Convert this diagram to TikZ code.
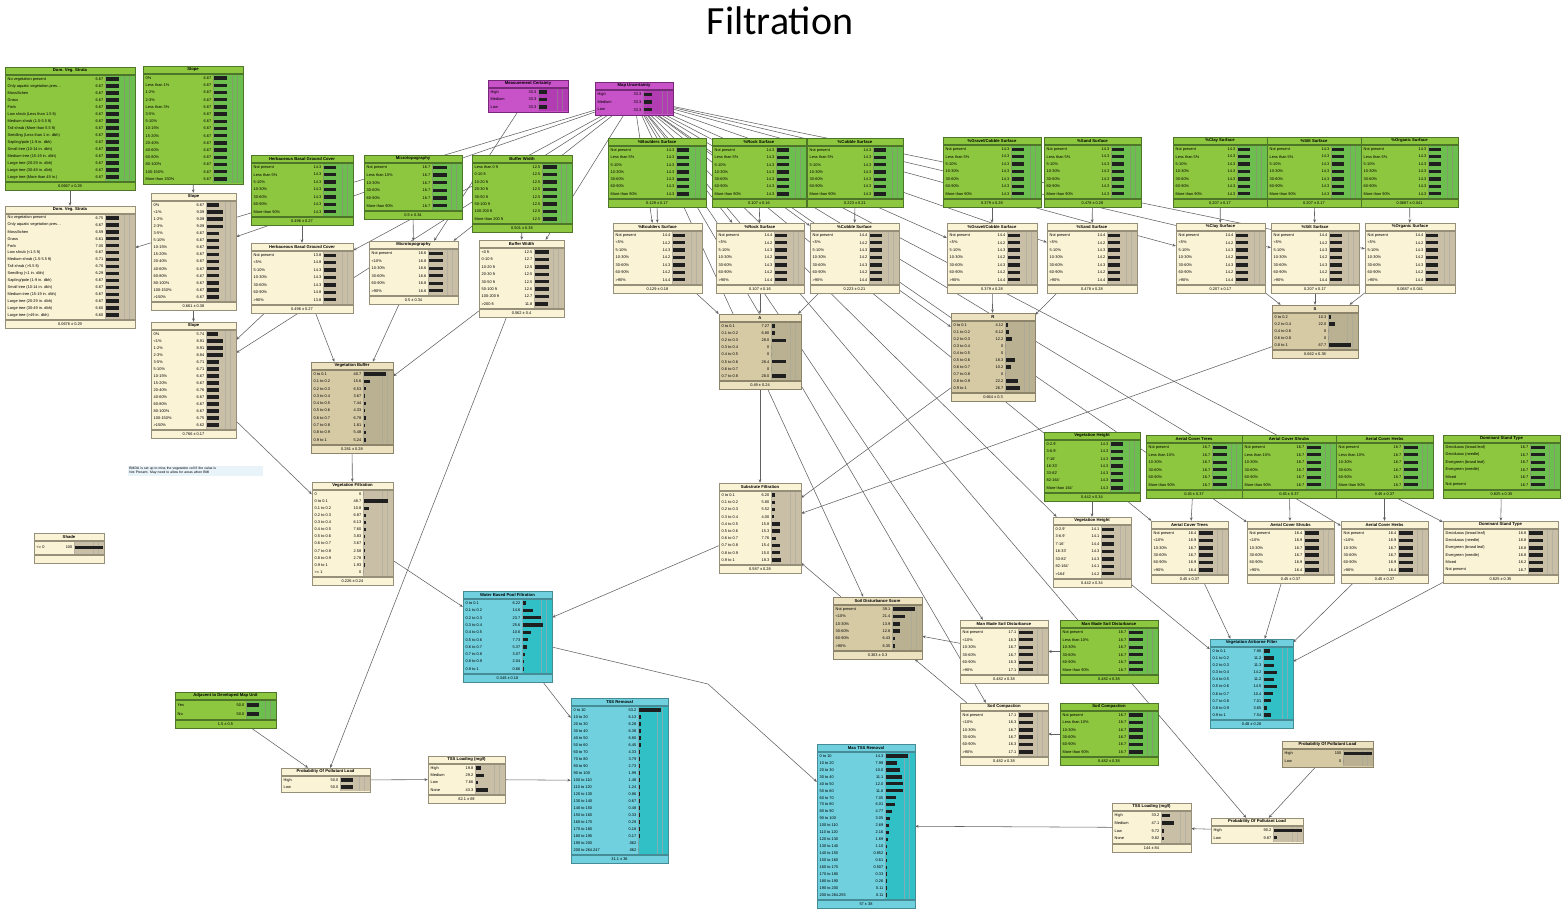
\documentclass[tikz,border=0pt]{standalone}
\usepackage{fontspec}
\setmainfont{Liberation Sans}
\newfontfamily\titlefont{Carlito}
\usetikzlibrary{fit,arrows.meta}
\pgfdeclarelayer{bgw}\pgfdeclarelayer{edges}
\pgfsetlayers{bgw,edges,main}
% colour schemes: G green, C cream, T tan, B cyan, M magenta
\definecolor{Gbg}{RGB}{141,198,63}\definecolor{Gbar}{RGB}{108,190,78}\definecolor{Gtt}{RGB}{141,198,63}\definecolor{Gbd}{RGB}{78,118,40}
\definecolor{Cbg}{RGB}{251,243,214}\definecolor{Cbar}{RGB}{200,191,166}\definecolor{Ctt}{RGB}{251,243,214}\definecolor{Cbd}{RGB}{150,144,122}
\definecolor{Tbg}{RGB}{214,202,165}\definecolor{Tbar}{RGB}{186,176,146}\definecolor{Ttt}{RGB}{236,226,192}\definecolor{Tbd}{RGB}{140,133,108}
\definecolor{Bbg}{RGB}{112,208,222}\definecolor{Bbar}{RGB}{48,192,198}\definecolor{Btt}{RGB}{112,208,222}\definecolor{Bbd}{RGB}{70,140,150}
\definecolor{Mbg}{RGB}{200,82,200}\definecolor{Mbar}{RGB}{178,60,178}\definecolor{Mtt}{RGB}{200,82,200}\definecolor{Mbd}{RGB}{120,40,120}
\definecolor{notebg}{RGB}{232,243,250}
\protected\def\sls{/}
\tikzset{
 bntitle/.style={font=\bfseries\fontsize{4.2}{5}\selectfont, inner sep=0pt},
 bnrow/.style={font=\fontsize{3.9}{4.5}\selectfont, inner sep=0pt},
 edge/.style={draw=black!62, line width=0.55pt, -{Stealth[length=3.4pt,width=2.8pt]}},
}
% #1 name #2 x1 #3 y1 #4 x2 #5 y2 #6 scheme #7 title #8 footer #9 rows label/value/bar
\newcommand\bnode[9]{%
  \def\bnfoot{#8}%
  \ifx\bnfoot\empty\def\fh{1}\else\def\fh{9}\fi
  \edef\bnlist{#9}%
  \foreach \bnitem [count=\k] in \bnlist {\xdef\nr{\k}}%
  \pgfmathsetmacro\rh{(#5-#3-9-\fh)/\nr}%
  \node[fit={(#2,#3)(#4,#5)}, inner sep=0pt, fill=#6bg] (#1) {};
  \fill[#6tt] (#2,#3) rectangle (#4,#3+7);
  \node[bntitle] at ({(#2+#4)/2},#3+3.7) {#7};
  \fill[#6bar] (#4-30,#3+8) rectangle (#4-0.5,#5-\fh);
  \draw[#6bd!70, line width=0.25pt] (#4-30,#3+8) -- (#4-30,#5-\fh) (#4-11,#3+8) -- (#4-11,#5-\fh) (#4-6,#3+8) -- (#4-6,#5-\fh);
  \draw[#6bd, line width=0.3pt] (#2,#3+7) -- (#4,#3+7) (#2,#3+8.2) -- (#4,#3+8.2);
  \foreach \lab/\val/\bl [count=\k] in \bnlist {
    \pgfmathsetmacro\yy{#3+8.5+(\k-0.5)*\rh}
    \node[bnrow, anchor=west] at (#2+2.5,\yy) {\lab};
    \node[bnrow, anchor=east] at (#4-31.5,\yy) {\val};
    \fill[black!88] (#4-29.5,\yy-1.7) rectangle ++(\bl,3.4);
  }
  \ifx\bnfoot\empty\else
    \fill[#6tt] (#2,#5-9) rectangle (#4,#5);
    \draw[#6bd, line width=0.3pt] (#2,#5-9) -- (#4,#5-9) (#2,#5-7.8) -- (#4,#5-7.8);
    \node[bnrow] at ({(#2+#4)/2},#5-3.9) {#8};
  \fi
  \draw[#6bd, line width=0.6pt] (#2,#3) rectangle (#4,#5);
}
\def\rowsSurfG{Not present/14.3/12, Less than 5\%/14.3/12, 5-10\%/14.3/12, 10-30\%/14.3/12, 30-60\%/14.3/12, 60-90\%/14.3/12, More than 90\%/14.3/12}
\def\rowsSurfC{Not present/14.4/12, <5\%/14.2/12, 5-10\%/14.3/12, 10-30\%/14.2/12, 30-60\%/14.3/12, 60-90\%/14.2/12, >90\%/14.4/12}
\def\rowsCovG{Not present/16.7/14, Less than 10\%/16.7/14, 10-30\%/16.7/14, 30-60\%/16.7/14, 60-90\%/16.7/14, More than 90\%/16.7/14}
\def\rowsCovC{Not present/16.4/14, <10\%/16.9/14, 10-30\%/16.7/14, 30-60\%/16.7/14, 60-90\%/16.9/14, >90\%/16.4/14}
\def\rowsMmsC{Not present/17.1/14, <10\%/16.3/14, 10-30\%/16.7/14, 30-60\%/16.7/14, 60-90\%/16.3/14, >90\%/17.1/14}
\def\rowsHML{High/33.3/8, Medium/33.3/8, Low/33.3/8}
\def\rowsStandG{Deciduous (broad leaf)/16.7/14, Deciduous (needle)/16.7/14, Evergreen (broad leaf)/16.7/14, Evergreen (needle)/16.7/14, Mixed/16.7/14, Not present/16.7/14}
\def\rowsStandC{Deciduous (broad leaf)/16.8/14, Deciduous (needle)/16.8/14, Evergreen (broad leaf)/16.8/14, Evergreen (needle)/16.8/14, Mixed/16.2/14, Not present/16.7/14}
\begin{document}
\begin{tikzpicture}[x=1pt,y=-1pt]
\useasboundingbox (0,0) rectangle (1567,913);
\begin{pgfonlayer}{bgw}\fill[white] (0,0) rectangle (1567,913);\end{pgfonlayer}
\node[font=\titlefont\fontsize{40}{44}\selectfont] (ttl) at (780,21) {Filtration};

% ---- upper left
\bnode{dvG}{5}{67}{135}{190}{G}{Dom. Veg. Strata}{0.0667 ± 0.29}{No vegetation present/6.67/13, Only aquatic vegetation pres…/6.67/13, Moss\sls lichen/6.67/13, Grass/6.67/13, Forb/6.67/13, Low shrub (Less than 1.5 ft)/6.67/13, Medium shrub (1.5-5.5 ft)/6.67/13, Tall shrub (More than 5.5 ft)/6.67/13, Seedling (Less than 1 in. dbh)/6.67/13, Sapling\sls pole (1-9 in. dbh)/6.67/13, Small tree (10-14 in. dbh)/6.67/13, Medium tree (15-19 in. dbh)/6.67/13, Large tree (20-29 in. dbh)/6.67/13, Large tree (30-49 in. dbh)/6.67/13, Large tree (More than 49 in.)/6.67/13}
\bnode{dvC}{5}{206}{135}{328}{C}{Dom. Veg. Strata}{0.0676 ± 0.29}{No vegetation present/6.75/13, Only aquatic vegetation pres…/6.67/13, Moss\sls lichen/6.59/13, Grass/6.61/13, Forb/7.00/13, Low shrub (<1.5 ft)/6.67/13, Medium shrub (1.5-5.5 ft)/6.71/13, Tall shrub (>5.5 ft)/6.70/13, Seedling (<1 in. dbh)/6.29/13, Sapling\sls pole (1-9 in. dbh)/6.67/13, Small tree (10-14 in. dbh)/6.67/13, Medium tree (15-19 in. dbh)/6.67/13, Large tree (20-29 in. dbh)/6.67/13, Large tree (30-49 in. dbh)/6.60/13, Large tree (>49 in. dbh)/6.60/13}
\bnode{slG}{143}{66}{243}{184}{G}{Slope}{}{0\%/6.67/13, Less than 1\%/6.67/13, 1-2\%/6.67/13, 2-3\%/6.67/13, Less than 3\%/6.67/13, 3-5\%/6.67/13, 5-10\%/6.67/13, 10-15\%/6.67/13, 15-20\%/6.67/13, 20-40\%/6.67/13, 40-60\%/6.67/13, 60-80\%/6.67/13, 80-100\%/6.67/13, 100-150\%/6.67/13, More than 150\%/6.67/13}
\bnode{slC1}{151}{193}{236}{310}{C}{Slope}{0.661 ± 0.38}{0\%/6.67/12, <1\%/9.09/16, 1-2\%/9.09/16, 2-3\%/9.09/16, 3-5\%/6.67/12, 5-10\%/6.67/12, 10-15\%/6.67/12, 15-20\%/6.67/12, 20-40\%/6.67/12, 40-60\%/6.67/12, 60-80\%/6.67/12, 80-100\%/6.67/12, 100-150\%/6.67/12, >150\%/6.67/12}
\bnode{slC2}{151}{322}{236}{438}{C}{Slope}{0.766 ± 0.17}{0\%/5.74/11, <1\%/8.91/16, 1-2\%/8.91/16, 2-3\%/8.84/16, 3-5\%/6.71/12, 5-10\%/6.71/12, 10-15\%/6.67/12, 15-20\%/6.67/12, 20-40\%/6.76/12, 40-60\%/6.67/12, 60-80\%/6.67/12, 80-100\%/6.67/12, 100-150\%/6.75/12, >150\%/6.62/12}
\bnode{hbG}{251}{155}{353}{225}{G}{Herbaceous Basal Ground Cover}{0.496 ± 0.27}{Not present/14.3/12, Less than 5\%/14.3/12, 5-10\%/14.3/12, 10-30\%/14.3/12, 30-60\%/14.3/12, 60-90\%/14.3/12, More than 90\%/14.3/12}
\bnode{hbC}{251}{243}{353}{313}{C}{Herbaceous Basal Ground Cover}{0.496 ± 0.27}{Not present/13.8/12, <5\%/14.8/12, 5-10\%/14.3/12, 10-30\%/14.3/12, 30-60\%/14.3/12, 60-90\%/14.8/12, >90\%/13.8/12}
\bnode{miG}{364}{155}{462}{219}{G}{Microtopography}{0.5 ± 0.34}{\rowsCovG}
\bnode{miC}{369}{241}{458}{304}{C}{Microtopography}{0.5 ± 0.34}{Not present/16.6/14, <10\%/16.8/14, 10-30\%/16.6/14, 30-60\%/16.6/14, 60-90\%/16.8/14, >90\%/16.6/14}
\bnode{bwG}{472}{155}{572}{232}{G}{Buffer Width}{0.501 ± 0.38}{Less than 0 ft/12.5/14, 0-10 ft/12.5/14, 10-20 ft/12.5/14, 20-30 ft/12.5/14, 30-50 ft/12.5/14, 50-100 ft/12.5/14, 100-200 ft/12.5/14, More than 200 ft/12.5/14}
\bnode{bwC}{479}{240}{564}{317}{C}{Buffer Width}{0.562 ± 0.4}{<0 ft/12.5/14, 0-10 ft/12.7/14, 10-20 ft/12.5/14, 20-30 ft/12.5/14, 30-50 ft/12.5/14, 50-100 ft/12.6/14, 100-200 ft/12.7/14, >200 ft/11.8/13}
\bnode{meas}{488}{80}{568}{112}{M}{Measurement Certainty}{}{\rowsHML}
\bnode{mu}{595}{82}{673}{115}{M}{Map Uncertainty}{}{\rowsHML}

% ---- surface row
\bnode{bdG}{608}{138}{706}{207}{G}{\%Boulders Surface}{0.129 ± 0.17}{\rowsSurfG}
\bnode{rkG}{712}{138}{806}{207}{G}{\%Rock Surface}{0.107 ± 0.16}{\rowsSurfG}
\bnode{cbG}{807}{138}{903}{207}{G}{\%Cobble Surface}{0.223 ± 0.21}{\rowsSurfG}
\bnode{gcG}{943}{137}{1041}{207}{G}{\%Gravel/Cobble Surface}{0.379 ± 0.28}{\rowsSurfG}
\bnode{sdG}{1044}{137}{1141}{207}{G}{\%Sand Surface}{0.478 ± 0.28}{\rowsSurfG}
\bnode{clG}{1173}{137}{1267}{207}{G}{\%Clay Surface}{0.207 ± 0.17}{\rowsSurfG}
\bnode{siG}{1267}{137}{1361}{207}{G}{\%Silt Surface}{0.207 ± 0.17}{\rowsSurfG}
\bnode{ogG}{1361}{137}{1458}{207}{G}{\%Organic Surface}{0.0687 ± 0.041}{\rowsSurfG}
\bnode{bdC}{613}{223}{702}{293}{C}{\%Boulders Surface}{0.129 ± 0.18}{\rowsSurfC}
\bnode{rkC}{716}{223}{804}{293}{C}{\%Rock Surface}{0.107 ± 0.16}{\rowsSurfC}
\bnode{cbC}{810}{223}{899}{293}{C}{\%Cobble Surface}{0.223 ± 0.21}{\rowsSurfC}
\bnode{gcC}{947}{223}{1037}{293}{C}{\%Gravel/Cobble Surface}{0.379 ± 0.28}{\rowsSurfC}
\bnode{sdC}{1047}{223}{1137}{293}{C}{\%Sand Surface}{0.478 ± 0.28}{\rowsSurfC}
\bnode{clC}{1176}{223}{1265}{293}{C}{\%Clay Surface}{0.207 ± 0.17}{\rowsSurfC}
\bnode{siC}{1271}{223}{1359}{293}{C}{\%Silt Surface}{0.207 ± 0.17}{\rowsSurfC}
\bnode{ogC}{1365}{223}{1455}{293}{C}{\%Organic Surface}{0.0687 ± 0.041}{\rowsSurfC}

% ---- substrate
\bnode{nA}{719}{314}{801}{389}{T}{A}{0.49 ± 0.24}{0 to 0.1/7.27/3, 0.1 to 0.2/6.80/3, 0.2 to 0.3/28.0/14, 0.3 to 0.4/0/0, 0.4 to 0.5/0/0, 0.5 to 0.6/28.4/14, 0.6 to 0.7/0/0, 0.7 to 0.8/28.0/14}
\bnode{nR}{951}{313}{1035}{401}{T}{R}{0.664 ± 0.3}{0 to 0.1/4.12/2, 0.1 to 0.2/6.12/3, 0.2 to 0.3/12.2/6, 0.3 to 0.4/0/0, 0.4 to 0.5/0/0, 0.5 to 0.6/18.3/9, 0.6 to 0.7/10.2/5, 0.7 to 0.8/0/0, 0.8 to 0.9/22.2/12, 0.9 to 1/26.7/14}
\bnode{nS}{1272}{305}{1358}{358}{T}{S}{0.662 ± 0.38}{0 to 0.2/10.3/2, 0.2 to 0.4/22.0/6, 0.4 to 0.6/0/0, 0.6 to 0.8/0/0, 0.8 to 1/67.7/22}
\bnode{sub}{719}{483}{801}{573}{C}{Substrate Filtration}{0.587 ± 0.28}{0 to 0.1/6.20/3, 0.1 to 0.2/5.80/3, 0.2 to 0.3/5.52/3, 0.3 to 0.4/4.00/2, 0.4 to 0.5/15.8/8, 0.5 to 0.6/15.3/8, 0.6 to 0.7/7.76/4, 0.7 to 0.8/15.4/8, 0.8 to 0.9/15.0/8, 0.9 to 1/18.3/9}

% ---- vegetation chain
\bnode{vegBuf}{311}{362}{393}{453}{T}{Vegetation Buffer}{0.281 ± 0.28}{0 to 0.1/40.7/22, 0.1 to 0.2/15.6/6, 0.2 to 0.3/6.53/2, 0.3 to 0.4/3.67/1, 0.4 to 0.5/7.44/2, 0.5 to 0.6/4.33/1, 0.6 to 0.7/6.78/2, 0.7 to 0.8/1.81/1, 0.8 to 0.9/5.48/2, 0.9 to 1/5.24/2}
\bnode{vegFil}{312}{482}{393}{585}{C}{Vegetation Filtration}{0.226 ± 0.24}{0/0/0, 0 to 0.1/48.7/24, 0.1 to 0.2/10.8/5, 0.2 to 0.3/6.87/2, 0.3 to 0.4/6.13/2, 0.4 to 0.5/7.60/2, 0.5 to 0.6/3.83/1, 0.6 to 0.7/3.67/1, 0.7 to 0.8/2.58/1, 0.8 to 0.9/2.78/1, 0.9 to 1/1.93/1, >= 1/0/0}
\bnode{wbf}{463}{591}{552}{682}{B}{Water Based Pool Filtration}{0.348 ± 0.18}{0 to 0.1/6.22/3, 0.1 to 0.2/14.6/10, 0.2 to 0.3/23.7/18, 0.3 to 0.4/25.6/20, 0.4 to 0.5/10.6/8, 0.5 to 0.6/7.73/5, 0.6 to 0.7/5.37/4, 0.7 to 0.8/3.07/2, 0.8 to 0.9/2.04/1, 0.9 to 1/0.66/0.5}
\bnode{tssR}{571}{698}{668}{863}{B}{TSS Removal}{31.1 ± 36}{0 to 10/53.2/22, 10 to 20/6.13/2, 20 to 30/6.28/2, 30 to 40/6.38/2, 40 to 50/6.80/2, 50 to 60/6.45/2, 60 to 70/4.33/1, 70 to 80/3.79/1, 80 to 90/2.73/1, 90 to 100/1.99/0.6, 100 to 110/1.48/0.5, 110 to 120/1.24/0.5, 120 to 130/0.86/0.4, 130 to 140/0.67/0.3, 140 to 150/0.48/0.3, 150 to 160/0.33/0.2, 160 to 170/0.29/0.2, 170 to 180/0.18/0.2, 180 to 190/0.17/0.2, 190 to 200/.062/0, 200 to 264.247/.062/0}
\bnode{tssLL}{428}{756}{505}{803}{C}{TSS Loading (mg/l)}{82.1 ± 69}{High/19.8/5, Medium/29.2/8, Low/7.66/2, None/43.3/12}
\bnode{ppl1}{281}{768}{370}{792}{C}{Probability Of Pollutant Load}{}{High/50.0/12, Low/50.0/12}
\bnode{adj}{175}{692}{276}{728}{G}{Adjacent to Developed Map Unit}{1.5 ± 0.5}{Yes/50.0/12, No/50.0/12}
\bnode{shade}{34}{533}{104}{563}{C}{Shade}{~}{<= 0/100/28}
\node[fill=notebg, anchor=north west, inner sep=1.2pt, text width=132pt, align=left, font=\fontsize{3.4}{4}\selectfont] (note) at (128,466) {BMDU is set up to miss the vegetation cell if the value is\\ Not Present. May need to allow for areas when BMI};

% ---- soil
\bnode{sds}{833}{597}{922}{659}{T}{Soil Disturbance Score}{0.303 ± 0.3}{Not present/39.1/22, <10\%/21.4/12, 10-30\%/13.9/7, 30-60\%/12.8/7, 60-90\%/6.43/2, >90\%/6.35/2}
\bnode{mmsC}{960}{620}{1048}{683}{C}{Man Made Soil Disturbance}{0.482 ± 0.38}{\rowsMmsC}
\bnode{mmsG}{1060}{620}{1158}{683}{G}{Man Made Soil Disturbance}{0.482 ± 0.38}{\rowsCovG}
\bnode{scC}{960}{703}{1048}{765}{C}{Soil Compaction}{0.482 ± 0.38}{\rowsMmsC}
\bnode{scG}{1060}{703}{1158}{765}{G}{Soil Compaction}{0.482 ± 0.38}{\rowsCovG}
\bnode{maxTss}{817}{744}{915}{908}{B}{Max TSS Removal}{57 ± 38}{0 to 10/14.3/22, 10 to 20/7.99/11, 20 to 30/10.0/14, 30 to 40/11.1/16, 40 to 50/12.0/17, 50 to 60/11.8/17, 60 to 70/7.05/10, 70 to 80/6.01/9, 80 to 90/4.77/6, 90 to 100/3.05/4, 100 to 110/2.69/3, 110 to 120/2.16/3, 120 to 130/1.69/2, 130 to 140/1.10/1, 140 to 150/0.852/1, 150 to 160/0.61/0.5, 160 to 170/0.507/0.5, 170 to 180/0.33/0.5, 180 to 190/0.26/0.5, 190 to 200/0.11/0.3, 200 to 264.255/0.11/0.3}
\bnode{tssLR}{1112}{803}{1191}{852}{C}{TSS Loading (mg/l)}{144 ± 84}{High/33.2/8, Medium/47.1/12, Low/9.72/2, None/9.82/2}
\bnode{ppl2}{1211}{818}{1303}{843}{C}{Probability Of Pollutant Load}{}{High/90.2/28, Low/9.87/3}
\bnode{ppl3}{1282}{741}{1373}{767}{T}{Probability Of Pollutant Load}{}{High/100/28, Low/0/0}
\bnode{vaf}{1210}{639}{1293}{728}{B}{Vegetation Airborne Filter}{0.48 ± 0.28}{0 to 0.1/7.90/6, 0.1 to 0.2/11.2/10, 0.2 to 0.3/11.3/10, 0.3 to 0.4/14.2/13, 0.4 to 0.5/11.2/10, 0.5 to 0.6/14.5/13, 0.6 to 0.7/10.4/9, 0.7 to 0.8/7.01/7, 0.8 to 0.9/3.65/3, 0.9 to 1/7.54/7}

% ---- vegetation height / cover
\bnode{vhG}{1044}{432}{1140}{501}{G}{Vegetation Height}{0.442 ± 0.34}{0-2.9'/14.3/12, 3-6.9'/14.3/12, 7-16'/14.3/12, 16-33'/14.3/12, 33-82'/14.3/12, 82-164'/14.3/12, More than 164'/14.3/12}
\bnode{vhC}{1053}{517}{1131}{587}{C}{Vegetation Height}{0.442 ± 0.34}{0-2.9'/14.1/12, 3-6.9'/14.1/12, 7-16'/14.4/12, 16-33'/14.3/12, 33-82'/14.3/12, 82-164'/14.1/12, >164'/14.2/12}
\bnode{atG}{1146}{435}{1242}{498}{G}{Aerial Cover Trees}{0.45 ± 0.37}{\rowsCovG}
\bnode{asG}{1242}{435}{1336}{498}{G}{Aerial Cover Shrubs}{0.45 ± 0.37}{\rowsCovG}
\bnode{ahG}{1336}{435}{1433}{498}{G}{Aerial Cover Herbs}{0.45 ± 0.37}{\rowsCovG}
\bnode{dsG}{1443}{435}{1560}{498}{G}{Dominant Stand Type}{0.825 ± 0.35}{\rowsStandG}
\bnode{atC}{1151}{521}{1228}{583}{C}{Aerial Cover Trees}{0.45 ± 0.37}{\rowsCovC}
\bnode{asC}{1247}{521}{1334}{583}{C}{Aerial Cover Shrubs}{0.45 ± 0.37}{\rowsCovC}
\bnode{ahC}{1341}{521}{1428}{583}{C}{Aerial Cover Herbs}{0.45 ± 0.37}{\rowsCovC}
\bnode{dsC}{1443}{521}{1558}{583}{C}{Dominant Stand Type}{0.825 ± 0.35}{\rowsStandC}

\coordinate (wbend) at (708,684);

\begin{pgfonlayer}{edges}
\foreach \s/\t in {dvG/dvC, slG/slC1, slC1/slC2, hbG/hbC, miG/miC, bwG/bwC,
  bdG/bdC, rkG/rkC, cbG/cbC, gcG/gcC, sdG/sdC, clG/clC, siG/siC, ogG/ogC,
  vhG/vhC, atG/atC, asG/asC, ahG/ahC, dsG/dsC, mmsG/mmsC, scG/scC,
  mu/dvC, mu/slC1, mu/slC2, mu/hbC, mu/miC, mu/bwC, mu/bdC, mu/rkC, mu/cbC, mu/gcC, mu/sdC, mu/clC, mu/siC, mu/ogC,
  mu/vhC, mu/atC, mu/asC, mu/ahC, mu/dsC, mu/mmsC, mu/scC, mu/sds, mu/ppl2,
  meas/miC, hbC/slC2, hbC/vegBuf, miC/vegBuf, bwC/vegBuf, bwC/ppl1,
  slC2/vegFil, vegBuf/vegFil, vegFil/wbf, sub/wbf, wbf/tssR,
  tssLL/tssR, ppl1/tssLL, adj/ppl1,
  bdC/nA, rkC/nA, cbC/nA, cbC/nR, gcC/nR, sdC/nR, clC/nS, siC/nS, ogC/nS,
  nA/sub, nR/sub, nS/sub, sds/sub, mmsC/sds, scC/sds,
  vhC/vaf, atC/vaf, asC/vaf, ahC/vaf, dsC/vaf,
  ppl3/ppl2, ppl2/tssLR, tssLR/maxTss}
  {\draw[edge] (\s) -- (\t);}
\draw[edge] (wbf) -- (wbend) -- (maxTss);
\end{pgfonlayer}
\end{tikzpicture}
\end{document}
